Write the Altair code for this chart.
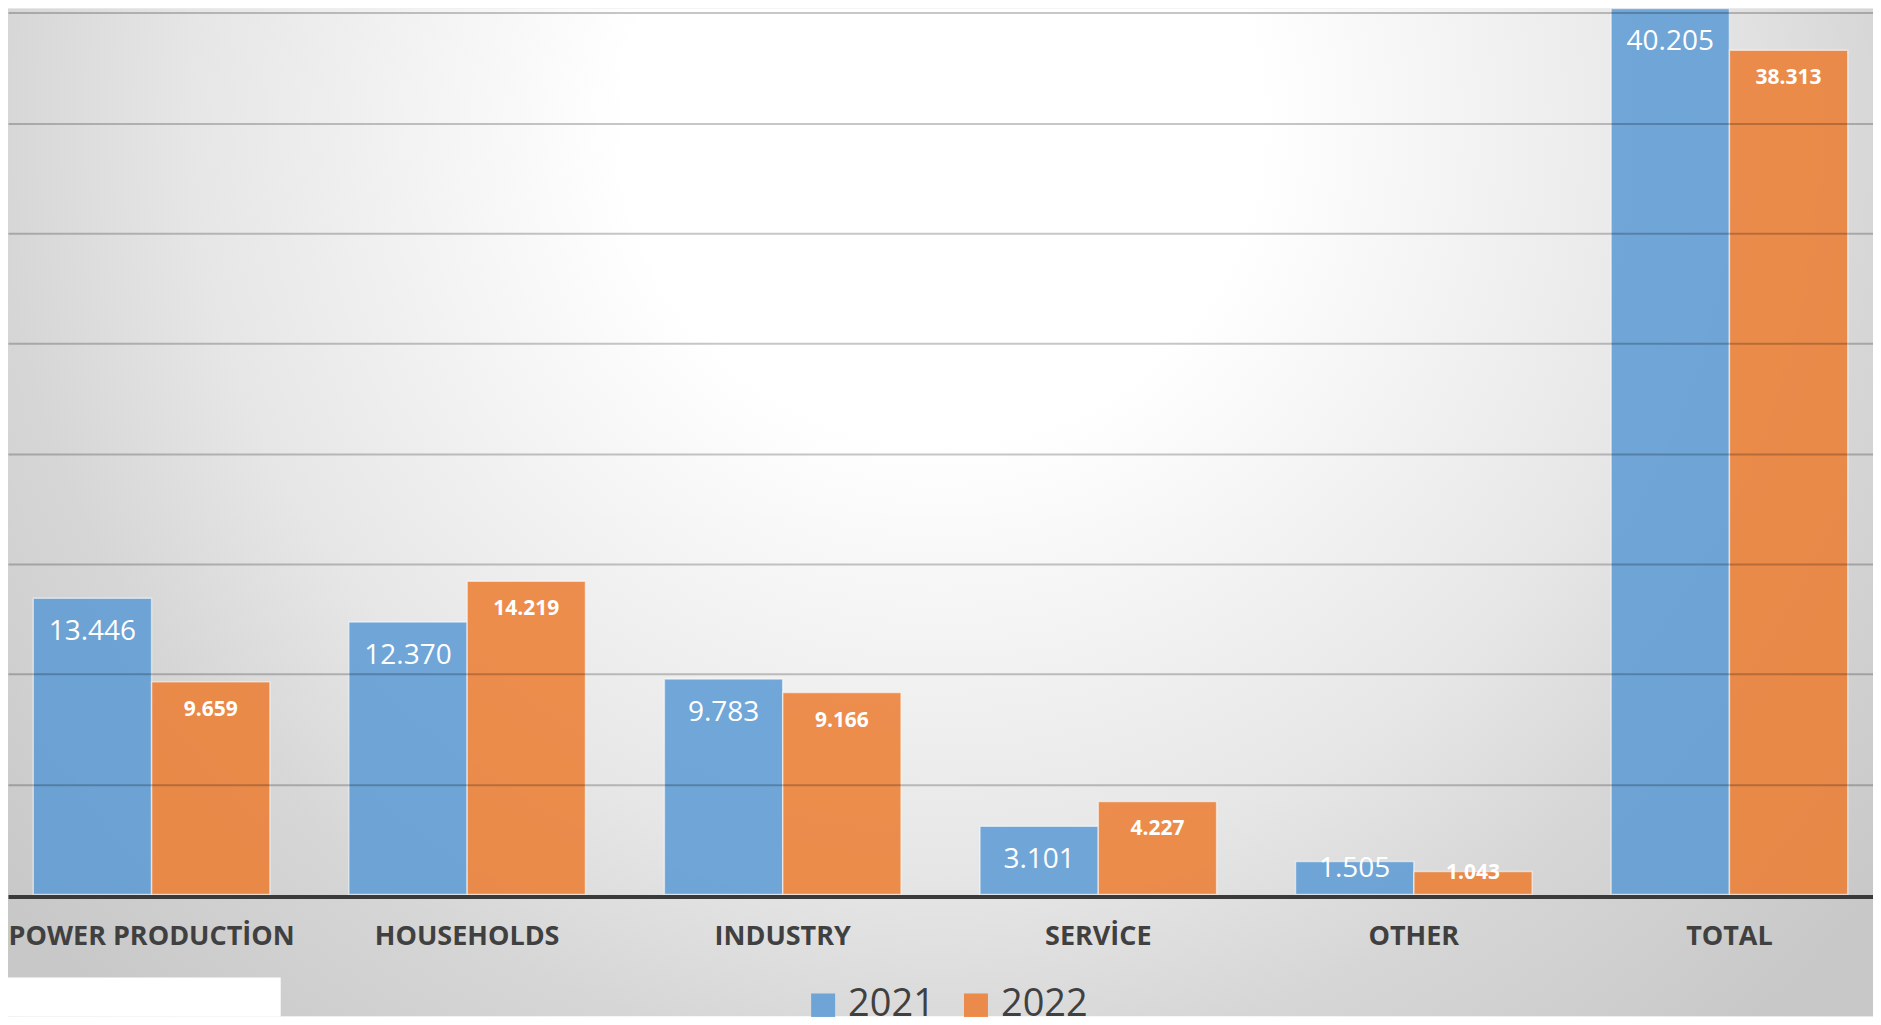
import altair as alt
import pandas as pd

categories = ["POWER PRODUCTİON", "HOUSEHOLDS", "INDUSTRY", "SERVİCE", "OTHER", "TOTAL"]
years = ["2021", "2022"]
values_2021 = [13.446, 12.370, 9.783, 3.101, 1.505, 40.205]
values_2022 = [9.659, 14.219, 9.166, 4.227, 1.043, 38.313]
colors = ["#5b9bd5", "#ed7d31"]

rows = []
for c, a, b in zip(categories, values_2021, values_2022):
    rows.append({"category": c, "year": "2021", "value": a})
    rows.append({"category": c, "year": "2022", "value": b})
df = pd.DataFrame(rows)

W, H = 1867, 887
PAD_BOTTOM = 122

x_scale = alt.Scale(domain=categories, paddingInner=0.25, paddingOuter=0.08)
xo_scale = alt.Scale(domain=years)
y_scale = alt.Scale(domain=[0, 40.2], nice=False, zero=True)

x_axis = alt.Axis(
    title=None, labelAngle=0, labelFont="Open Sans", labelFontSize=27,
    labelFontWeight="bold", labelColor="#404040", labelPadding=40,
    labelBaseline="middle", ticks=False, tickSize=0, domainColor="#3a3a3a",
    domainWidth=4, offset=2, grid=False, labelLimit=0, zindex=2,
)
y_axis = alt.Axis(
    title=None, labels=False, ticks=False, domain=False, grid=True,
    values=[5, 10, 15, 20, 25, 30, 35, 40],
    gridColor="#000000", gridOpacity=0.22, gridWidth=2, zindex=1,
)

# background gradient
bg = alt.Chart(pd.DataFrame({"a": [0]})).mark_rect(
    fill=alt.RadialGradient(
        gradient="radial",
        x1=0.5, y1=0.29, r1=0.0,
        x2=0.5, y2=0.29, r2=0.65,
        stops=[
            alt.GradientStop(offset=0.0, color="#ffffff"),
            alt.GradientStop(offset=0.26, color="#ffffff"),
            alt.GradientStop(offset=0.62, color="#e6e6e6"),
            alt.GradientStop(offset=0.78, color="#d6d6d6"),
            alt.GradientStop(offset=1.0, color="#c8c8c8"),
        ],
    )
).encode(
    x=alt.value(0), x2=alt.value(W), y=alt.value(0), y2=alt.value(H + PAD_BOTTOM)
)

bars = alt.Chart(df).mark_bar(
    opacity=0.85, stroke="white", strokeOpacity=0.6, strokeWidth=1.5
).encode(
    x=alt.X("category:N", sort=categories, scale=x_scale, axis=x_axis),
    xOffset=alt.XOffset("year:N", scale=xo_scale),
    y=alt.Y("value:Q", scale=y_scale, axis=y_axis),
    color=alt.Color(
        "year:N",
        scale=alt.Scale(domain=years, range=colors),
        legend=alt.Legend(
            orient="none", legendX=797, legendY=979, direction="horizontal",
            title=None, symbolType="square", symbolSize=576,
            labelFont="Open Sans", labelFontSize=38, labelColor="#404040",
            labelOffset=6, columnPadding=22, symbolOpacity=0.85,
            symbolStrokeWidth=0, padding=0, zindex=2,
        ),
    ),
)

t21 = alt.Chart(df).transform_filter(
    alt.datum.year == "2021"
).transform_calculate(
    ly="max(datum.value - 1.90, 0.82)"
).mark_text(
    color="white", font="Open Sans", fontSize=28, baseline="alphabetic"
).encode(
    x=alt.X("category:N", sort=categories, scale=x_scale, axis=x_axis),
    xOffset=alt.XOffset("year:N", scale=xo_scale),
    y=alt.Y("ly:Q", scale=y_scale, axis=y_axis),
    text=alt.Text("value:Q", format=".3f"),
)

t22 = alt.Chart(df).transform_filter(
    alt.datum.year == "2022"
).transform_calculate(
    ly="max(datum.value - 1.54, 0.72)"
).mark_text(
    color="white", font="Open Sans", fontSize=21, fontWeight="bold",
    baseline="alphabetic"
).encode(
    x=alt.X("category:N", sort=categories, scale=x_scale, axis=x_axis),
    xOffset=alt.XOffset("year:N", scale=xo_scale),
    y=alt.Y("ly:Q", scale=y_scale, axis=y_axis),
    text=alt.Text("value:Q", format=".3f"),
)

logo = alt.Chart(pd.DataFrame({"a": [0]})).mark_rect(fill="#ffffff").encode(
    x=alt.value(0), x2=alt.value(273), y=alt.value(970), y2=alt.value(H + PAD_BOTTOM)
)

chart = alt.layer(bg, bars, t21, t22, logo).properties(
    width=W, height=H,
    autosize=alt.AutoSizeParams(type="none"),
    padding={"left": 0, "top": 0, "right": 0, "bottom": PAD_BOTTOM},
).configure_view(stroke=None)

chart.save("out.html", embed_options={"renderer": "svg", "actions": False})
